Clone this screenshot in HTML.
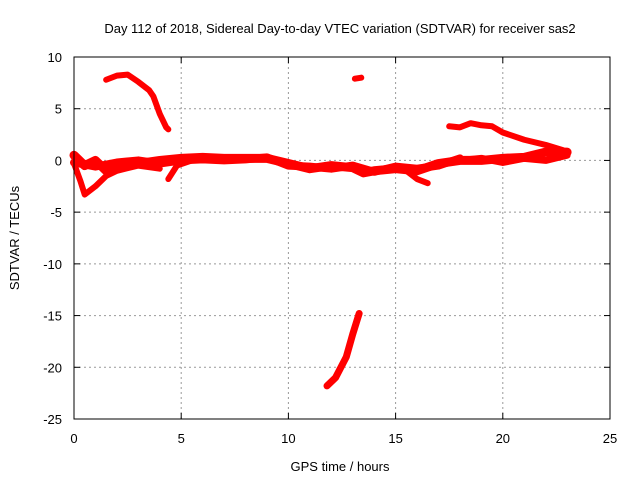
<!DOCTYPE html>
<html><head><meta charset="utf-8"><style>
body{margin:0;background:#fff}
svg{display:block;font-family:"Liberation Sans",sans-serif;font-size:13px}
</style></head><body>
<svg id="chart" width="640" height="480">
<text x="340" y="33" text-anchor="middle">Day 112 of 2018, Sidereal Day-to-day VTEC variation (SDTVAR) for receiver sas2</text>
<text x="340" y="471" text-anchor="middle">GPS time / hours</text>
<text transform="translate(19,238) rotate(-90)" text-anchor="middle">SDTVAR / TECUs</text>
<g id="grid"></g><g id="ticks"></g><g id="series"></g>
<rect x="74" y="57" width="536" height="362" fill="none" stroke="#000" stroke-width="1"/>
</svg>
<script>
const xTicks=[0,5,10,15,20,25];
const yTicks=[10,5,0,-5,-10,-15,-20,-25];
const arcTrack=[[1.5,7.8],[2,8.2],[2.5,8.3],[3,7.6],[3.5,6.8],[3.7,6.2],[4,4.5],[4.3,3.2],[4.4,3.0]];
const mainTrack=[[0,0.5],[0.5,-0.5],[1,0],[1.5,-1],[2,-0.5],[3,-0.3],[4,0],[5,0.2],[6,0.3],[7,0.2],[8,0.2],[9,0.2],[10,-0.3],[11,-0.8],[12,-0.5],[13,-0.7],[13.5,-1.2],[14,-1],[15,-0.8],[16,-1],[17,-0.3],[18,0],[19,0],[20,0.2],[21,0.3],[22,0.8],[23,0.8]];
const mainTrack2=[[0,-0.2],[1,-0.6],[2,-0.2],[3,0],[4,-0.3],[5,0],[6,0.1],[7,0],[8,0.1],[9,0.3],[10,-0.5],[11,-0.6],[12,-0.8],[13,-0.5],[14,-1.1],[15,-0.6],[16,-0.8],[17,-0.5],[18,0.2]];
const lowTrack=[[0,-0.3],[0.3,-2],[0.5,-3.3],[1,-2.5],[1.5,-1.5],[2,-1],[3,-0.5],[4,-0.8]];
const shortTrack=[[4.4,-1.8],[4.8,-0.5],[5.5,0]];
const dipTrack=[[15.5,-1],[16,-1.8],[16.5,-2.2]];
const upperRightTrack=[[17.5,3.3],[18,3.2],[18.5,3.6],[19,3.4],[19.5,3.3],[20,2.7],[21,2],[22,1.5],[22.8,1]];
const smallTrack=[[13.1,7.9],[13.4,8.0]];
const steepTrack=[[11.8,-21.8],[12.2,-21],[12.7,-19],[13,-16.8],[13.3,-14.8]];
const lateTrack=[[18,0],[19,0.2],[20,-0.2],[21,0.2],[22,0],[23,0.5]];
const X0=74,X1=610,Y0=419,Y1=57,XMAX=25,YMIN=-25,YMAX=10;
const sx=v=>X0+(v/XMAX)*(X1-X0);
const sy=v=>Y0-(v-YMIN)/(YMAX-YMIN)*(Y0-Y1);
const NS="http://www.w3.org/2000/svg";
const grid=document.getElementById('grid'),ticks=document.getElementById('ticks'),ser=document.getElementById('series');
function mk(t,a,p){const e=document.createElementNS(NS,t);for(const k in a)e.setAttribute(k,a[k]);p.appendChild(e);return e;}
xTicks.forEach(v=>{const x=sx(v);
 if(v>0&&v<XMAX){const g=mk('line',{x1:x,x2:x,y1:Y1,y2:Y0,stroke:'#999','stroke-dasharray':'2,3'},grid);
 
 }
 mk('line',{x1:x,x2:x,y1:Y0,y2:Y0-6,stroke:'#000'},ticks);mk('line',{x1:x,x2:x,y1:Y1,y2:Y1+6,stroke:'#000'},ticks);
 const t=mk('text',{x:x,y:443,'text-anchor':'middle'},ticks);t.textContent=v;
 
 });
yTicks.forEach(v=>{const y=sy(v);
 if(v<YMAX&&v>YMIN){const g=mk('line',{x1:X0,x2:X1,y1:y,y2:y,stroke:'#999','stroke-dasharray':'2,3'},grid);
 
 }
 mk('line',{x1:X0,x2:X0+6,y1:y,y2:y,stroke:'#000'},ticks);mk('line',{x1:X1,x2:X1-6,y1:y,y2:y,stroke:'#000'},ticks);
 const t=mk('text',{x:62,y:y+5,'text-anchor':'end'},ticks);t.textContent=v;
 
 });
[[arcTrack,6],[mainTrack,9],[mainTrack2,8],[lowTrack,6],[shortTrack,6],[dipTrack,6],[upperRightTrack,6],[smallTrack,6],[steepTrack,7],[lateTrack,7]].forEach(([tr,w])=>{
 const p=mk('polyline',{points:tr.map(d=>sx(d[0])+','+sy(d[1])).join(' '),fill:'none',stroke:'#f00','stroke-width':w,'stroke-linejoin':'round','stroke-linecap':'round'},ser);
 
 });
</script>
</body></html>
